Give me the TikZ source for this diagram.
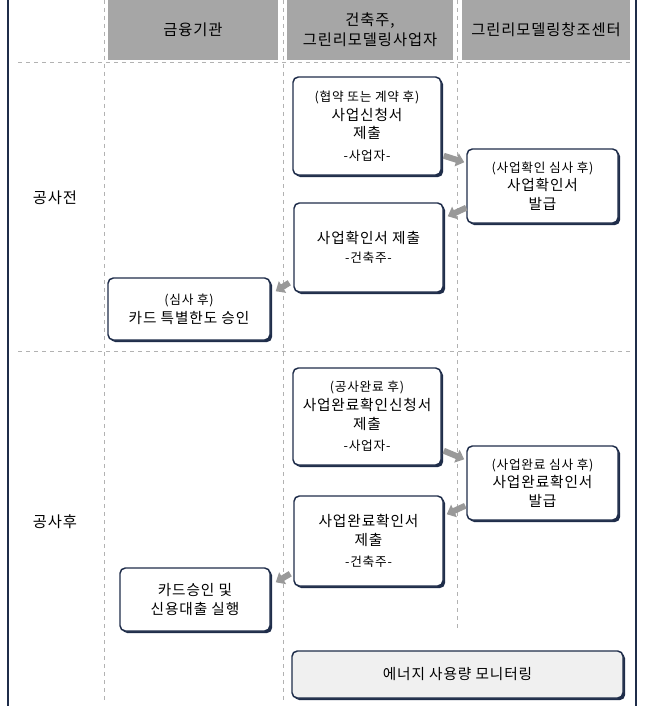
\documentclass[tikz,border=0pt]{standalone}
\usepackage{fontspec}
\setmainfont[LetterSpace=6]{Noto Sans CJK KR}
\usetikzlibrary{shadows,calc,arrows.meta}
\definecolor{navy}{HTML}{1F2D4A}
\definecolor{hdr}{HTML}{A6A6A6}
\newcommand{\smtxt}{\fontsize{9.5pt}{11.5pt}\selectfont}
\tikzset{
  box/.style={draw=navy,line width=1.1pt,rounded corners=4pt,fill=white,align=center,
    inner sep=0pt,font=\fontsize{11pt}{14pt}\selectfont,
    drop shadow={shadow xshift=1.6pt,shadow yshift=-1.6pt,fill=navy,opacity=1}},
  hbox/.style={fill=hdr,align=center,inner sep=0pt,font=\fontsize{11.5pt}{15pt}\selectfont},
  flow/.style={draw=gray!80,line width=4.5pt,-{Triangle[length=6pt,width=10pt]}},
  guide/.style={draw=gray!60,dashed,line width=0.6pt},
  lbl/.style={font=\fontsize{11.5pt}{14pt}\selectfont}
}
\begin{document}
\begin{tikzpicture}[x=0.75pt,y=-0.75pt]
\useasboundingbox (0,0) rectangle (646,706);
\fill[white] (0,0) rectangle (646,706);
\draw[navy,line width=1.5pt] (8,0) -- (8,706) (636,0) -- (636,706);
\node[hbox,minimum width=170*0.75pt,minimum height=60*0.75pt] (h1) at (193,30) {금융기관};
\node[hbox,minimum width=166*0.75pt,minimum height=60*0.75pt] (h2) at (370,30) {건축주,\\그린리모델링사업자};
\node[hbox,minimum width=168*0.75pt,minimum height=60*0.75pt] (h3) at (546,30) {그린리모델링창조센터};
\draw[guide] (18,62) -- (632,62) (18,351) -- (632,351);
\draw[guide] (104,0) -- (104,700) (283,0) -- (283,700) (457,0) -- (457,630);
\node[lbl] (pre) at (55,198) {공사전};
\node[lbl] (post) at (55,522) {공사후};
\node[box,minimum width=148*0.75pt,minimum height=98*0.75pt] (b1) at (367,126)
 {{\smtxt (협약 또는 계약 후)}\\사업신청서\\제출\\[2pt]{\smtxt -사업자-}};
\node[box,minimum width=151*0.75pt,minimum height=74*0.75pt] (b2) at (542.5,186)
 {{\smtxt (사업확인 심사 후)}\\사업확인서\\발급};
\node[box,minimum width=149*0.75pt,minimum height=89*0.75pt] (b3) at (368.5,247.5)
 {사업확인서 제출\\{\smtxt -건축주-}};
\node[box,minimum width=162*0.75pt,minimum height=62*0.75pt] (b4) at (189,309)
 {{\smtxt (심사 후)}\\카드 특별한도 승인};
\node[box,minimum width=148*0.75pt,minimum height=97*0.75pt] (b5) at (367,416.5)
 {{\smtxt (공사완료 후)}\\사업완료확인신청서\\제출\\[2pt]{\smtxt -사업자-}};
\node[box,minimum width=151*0.75pt,minimum height=74*0.75pt] (b6) at (542.5,483)
 {{\smtxt (사업완료 심사 후)}\\사업완료확인서\\발급};
\node[box,minimum width=149*0.75pt,minimum height=90*0.75pt] (b7) at (368.5,541)
 {사업완료확인서\\제출\\[2pt]{\smtxt -건축주-}};
\node[box,minimum width=150*0.75pt,minimum height=63*0.75pt] (b8) at (195,599.5)
 {카드승인 및\\신용대출 실행};
\node[box,fill=gray!12,minimum width=331*0.75pt,minimum height=47*0.75pt] (b9) at (457.5,674.5)
 {에너지 사용량 모니터링};
\draw[flow] ($(b1.south east)+(2,-20)$) -- ($(b2.north west)+(-2,14)$);
\draw[flow] ($(b2.south west)+(0,-16)$) -- ($(b3.north east)+(4,14)$);
\draw[flow] ($(b3.south west)+(-4,-10)$) -- ($(b4.north east)+(5,14)$);
\draw[flow] ($(b5.south east)+(2,-15)$) -- ($(b6.north west)+(-2,14)$);
\draw[flow] ($(b6.south west)+(-1,-15)$) -- ($(b7.north east)+(3,19)$);
\draw[flow] ($(b7.south west)+(-3,-13)$) -- ($(b8.north east)+(5,15)$);
\end{tikzpicture}
\end{document}
